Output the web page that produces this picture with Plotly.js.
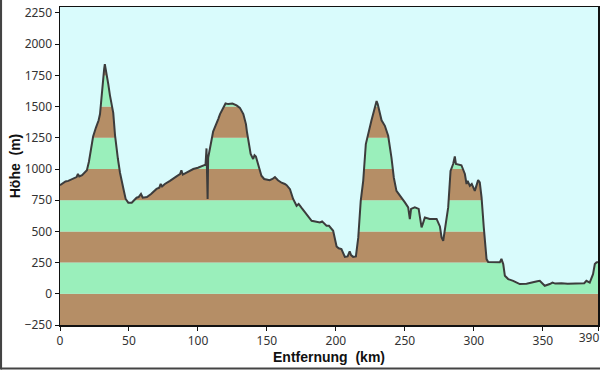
<!DOCTYPE html>
<html>
<head>
<meta charset="utf-8">
<script src="https://cdn.plot.ly/plotly-3.0.1.min.js"></script>
<style>html,body{margin:0;padding:0;background:#fff;}#chart{width:600px;height:371px;}</style>
</head>
<body>
<div id="chart"></div>
<script>
// Distance along route (km)
const distanceKm = [
  0, 2, 4, 6, 8, 10, 12, 13, 14, 16, 18, 19.5, 21, 22.5, 24, 26, 28, 29, 30, 31, 32, 32.5, 33, 33.8,
  35, 36.2, 37.5, 38.6, 39.9, 41, 42, 43.5, 45, 46, 47.6, 49.5, 52, 54, 55.5, 57, 58.7, 60, 63, 66,
  68, 70, 72, 73, 74, 76, 79.7, 82, 85, 87, 88, 89, 92, 96.6, 100, 103, 105.5, 106.2, 106.6, 107,
  107.4, 109, 110, 111, 113, 114.7, 116, 118.4, 120, 122, 125, 128, 130.4, 132.9, 134.8, 135.5, 136.5,
  138.2, 140, 141, 142, 143, 143.7, 145, 146, 148, 150, 152, 154, 155.8, 158, 160.6, 163, 164.3,
  166.7, 169, 171.5, 173, 175, 177.5, 180, 182.4, 185, 188.4, 190, 192, 193.2, 195, 198, 200.5, 202,
  204, 206.5, 208.5, 210, 211, 212.5, 214.5, 216.2, 218, 219.8, 221.7, 223.4, 225.8, 228.3, 229.5,
  230.3, 231.9, 233.1, 235.5, 237.9, 240.3, 242, 243.9, 247.6, 250, 252.4, 253.6, 254.5, 257.2, 260,
  262.1, 263, 264.5, 268, 271.7, 273, 275.4, 276.6, 277.8, 279, 281.4, 283.1, 285, 286.2, 287, 291,
  292.3, 293.5, 294.7, 295.5, 297.1, 298.5, 300.7, 302, 303.1, 304.3, 305.6, 307.2, 309.2, 310.4, 315,
  318.8, 320, 321.3, 322.5, 324.9, 328.5, 333.3, 338.2, 344.2, 346, 347.8, 349, 351.4, 355, 357, 359,
  363.5, 368, 372, 376.8, 380, 381.6, 384, 386.4, 387.7, 388.9, 390
];
// Elevation (m)
const elevationM = [
  870, 885, 900, 905, 915, 925, 935, 960, 940, 950, 975, 990, 1060, 1160, 1260, 1330, 1390, 1440, 1580, 1700, 1800, 1840, 1810, 1780,
  1680, 1590, 1500, 1450, 1270, 1150, 1080, 970, 880, 840, 760, 730, 730, 750, 770, 775, 800, 770, 775, 800,
  820, 840, 850, 880, 860, 880, 905, 925, 945, 960, 990, 955, 975, 1000, 1010, 1025, 1035, 1165, 1040, 760,
  1090, 1200, 1240, 1300, 1350, 1400, 1440, 1495, 1525, 1520, 1525, 1510, 1490, 1440, 1360, 1300, 1230,
  1120, 1080, 1110, 1100, 1060, 1040, 980, 946, 920, 915, 910, 920, 935, 910, 890, 880, 870,
  838, 760, 705, 720, 690, 652, 620, 585, 580, 572, 580, 555, 545, 545, 505, 380, 365,
  358, 296, 300, 340, 310, 296, 300, 450, 745, 905, 1200, 1290, 1390, 1495, 1545,
  1520, 1440, 1390, 1346, 1266, 1090, 930, 825, 772, 732, 692, 599, 680, 692, 680,
  532, 560, 612, 600, 598, 600, 540, 451, 425, 505, 692, 985, 1040, 1100, 1040, 1030,
  985, 960, 880, 905, 865, 880, 825, 880, 911, 892, 772, 532, 278, 255, 252,
  252, 280, 238, 144, 118, 104, 78, 80, 91, 100, 104, 92, 64, 78, 90, 82,
  85, 80, 80, 80, 85, 104, 90, 157, 238, 251, 255
];
const yTickVals = [-250, 0, 250, 500, 750, 1000, 1250, 1500, 1750, 2000, 2250];
const xTickVals = [0, 50, 100, 150, 200, 250, 300, 350, 390];
const xTickText = ["0", "50", "100", "150", "200", "250", "300", "350", ""];
const xEndTickVals = [390];
const xEndTickText = ["390"];
const bandStep = 250;

const yMin = -250, yMax = 2298, xMin = 0, xMax = 390;
const brown = '#b58e66', green = '#9aefbb', sky = '#d9fbfc';

// Alternating elevation bands (brown/green every 250 m)
const shapes = [];
for (let lo = yMin, i = 0; lo < yMax; lo += bandStep, i++) {
  shapes.push({type: 'rect', xref: 'x', yref: 'y', x0: xMin, x1: xMax, y0: lo, y1: Math.min(lo + bandStep, yMax),
    fillcolor: i % 2 === 0 ? brown : green, line: {width: 0}, layer: 'below'});
}
// outer frame lines of the picture
shapes.push({type: 'line', xref: 'paper', yref: 'paper', x0: -0.11, x1: -0.11, y0: -0.14, y1: 1.03, line: {color: '#444', width: 2.5}});
shapes.push({type: 'line', xref: 'paper', yref: 'paper', x0: -0.11, x1: 1.005, y0: -0.137, y1: -0.137, line: {color: '#444', width: 2}});

const topLine = distanceKm.map(() => yMax);

const traces = [
  {x: distanceKm, y: elevationM, mode: 'lines', line: {width: 0}, hoverinfo: 'skip', showlegend: false},
  {x: distanceKm, y: topLine, mode: 'lines', line: {width: 0}, fill: 'tonexty', fillcolor: sky, hoverinfo: 'skip', showlegend: false},
  {x: distanceKm, y: elevationM, mode: 'lines', line: {color: '#3c3c3c', width: 2}, showlegend: false},
  {x: xEndTickVals, y: [yMin], xaxis: 'x2', yaxis: 'y', mode: 'markers', marker: {opacity: 0, size: 1}, hoverinfo: 'skip', showlegend: false}
];

const tickFont = {family: 'Noto Sans, Open Sans, sans-serif', size: 12, color: '#333'};
const titleFont = {family: 'Liberation Sans, Arial, sans-serif', size: 14, color: '#111'};

const layout = {
  width: 600, height: 371,
  margin: {l: 60, r: 2, t: 7, b: 46},
  paper_bgcolor: '#ffffff',
  plot_bgcolor: sky,
  showlegend: false,
  shapes: shapes,
  xaxis: {
    range: [xMin, xMax], tickvals: xTickVals, ticktext: xTickText,
    showgrid: false, zeroline: false, showline: true, linecolor: '#111', linewidth: 1.5, mirror: true,
    ticks: 'outside', ticklen: 4, tickcolor: '#111', tickfont: tickFont,
    title: {text: '<b>Entfernung\u00a0\u00a0(km)</b>', font: titleFont, standoff: 1}
  },
  xaxis2: {
    overlaying: 'x', anchor: 'y', side: 'bottom', range: [xMin, xMax],
    tickvals: xEndTickVals, ticktext: xEndTickText, ticks: '', ticklen: 4,
    showgrid: false, zeroline: false, showline: false, tickfont: tickFont,
    ticklabelshift: -9, ticklabelstandoff: 4, ticklabeloverflow: 'allow'
  },
  yaxis: {
    range: [yMin, yMax], tickvals: yTickVals,
    showgrid: false, zeroline: false, showline: true, linecolor: '#111', linewidth: 1.5, mirror: true,
    ticks: 'outside', ticklen: 4, tickcolor: '#111', tickfont: tickFont,
    title: {text: '<b>Höhe\u00a0\u00a0(m)</b>', font: titleFont, standoff: 0}
  }
};

Plotly.newPlot('chart', traces, layout, {displayModeBar: false, staticPlot: true});
</script>
</body>
</html>
